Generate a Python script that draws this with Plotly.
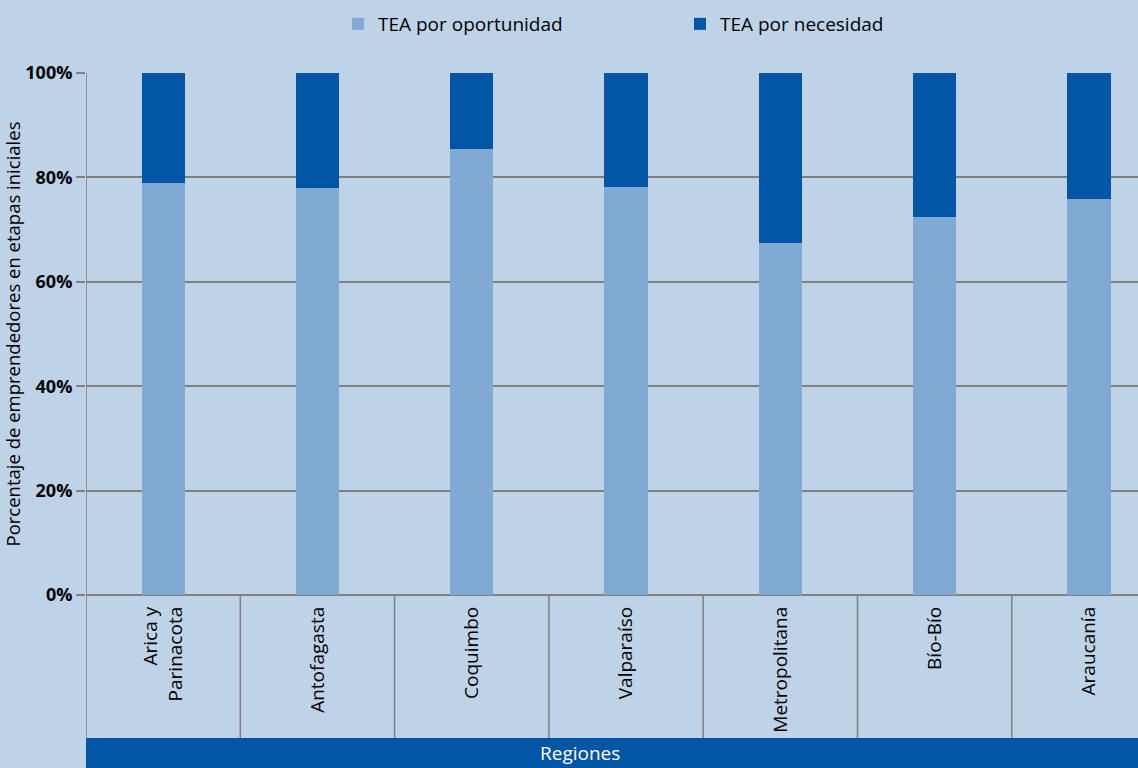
import plotly.graph_objects as go

regiones = ["Arica y<br>Parinacota", "Antofagasta", "Coquimbo", "Valparaíso",
            "Metropolitana", "Bío-Bío", "Araucanía"]
tea_oportunidad = [78.9, 78.0, 85.4, 78.2, 67.4, 72.4, 75.9]
tea_necesidad = [21.1, 22.0, 14.6, 21.8, 32.6, 27.6, 24.1]
y_ticks = [0, 20, 40, 60, 80, 100]
y_tick_labels = ["0%", "20%", "40%", "60%", "80%", "100%"]

BG = "#bed3e8"
LIGHT = "#80aad3"
DARK = "#0055a5"
GRID = "#808080"
FONT = "Open Sans"

W, H = 1138, 768
L, T, B = 86, 73, 173
plot_h = H - T - B
plot_w = W - L

def py(px):
    return (H - B - px) / plot_h

def pxx(px):
    return (px - L) / plot_w

x_idx = list(range(len(regiones)))

fig = go.Figure()
fig.add_trace(go.Bar(x=x_idx, y=tea_oportunidad, name="TEA por oportunidad",
                     marker=dict(color=LIGHT, line=dict(width=0)), width=0.28))
fig.add_trace(go.Bar(x=x_idx, y=tea_necesidad, name="TEA por necesidad",
                     marker=dict(color=DARK, line=dict(width=0)), width=0.28))

shapes = []
for i in range(len(regiones)):
    shapes.append(dict(type="line", xref="x", yref="paper", x0=i + 0.5, x1=i + 0.5,
                       y0=0, y1=py(738), line=dict(color=GRID, width=1.5), layer="below"))
shapes.append(dict(type="line", xref="x", yref="paper", x0=-0.5, x1=-0.5,
                   y0=py(738), y1=1, line=dict(color=GRID, width=1.5)))
shapes.append(dict(type="rect", xref="paper", yref="paper", x0=0, x1=1,
                   y0=py(768), y1=py(738), fillcolor=DARK, line=dict(width=0)))

fig.update_layout(
    width=W, height=H, autosize=False,
    margin=dict(l=L, r=0, t=T, b=B),
    paper_bgcolor=BG, plot_bgcolor=BG,
    barmode="stack",
    bargap=0,
    font=dict(family=FONT, color="#000000", size=18),
    showlegend=True,
    legend=dict(orientation="h", x=pxx(338), xanchor="left", y=py(24), yanchor="middle",
                font=dict(size=19, family=FONT), entrywidth=297, entrywidthmode="pixels",
                bgcolor="rgba(0,0,0,0)", traceorder="normal"),
    xaxis=dict(tickmode="array", tickvals=x_idx, ticktext=regiones, tickangle=-90,
               range=[-0.5, 6.318], showgrid=False, zeroline=False, showline=False,
               ticks="", ticklabelstandoff=7, tickfont=dict(size=19, family=FONT),
               fixedrange=True),
    yaxis=dict(range=[0, 100], tickmode="array", tickvals=y_ticks, ticktext=y_tick_labels,
               tickfont=dict(size=18, family=FONT, color="#000000", weight="bold"),
               showgrid=True, gridcolor=GRID, gridwidth=1.5,
               zeroline=True, zerolinecolor=GRID, zerolinewidth=1.5,
               ticks="outside", ticklen=9, tickcolor=GRID, tickwidth=1.5,
               showline=False, fixedrange=True,
               title=dict(text="Porcentaje de emprendedores en etapas iniciales",
                          font=dict(size=18.5, family=FONT), standoff=6)),
    shapes=shapes,
    annotations=[dict(text="Regiones", xref="paper", yref="paper", x=pxx(580), y=py(753),
                      xanchor="center", yanchor="middle", showarrow=False,
                      font=dict(size=19, color="#ffffff", family=FONT))],
)

fig.write_html("out.html", config={"displayModeBar": False},
               post_script="document.body.style.margin='0';document.body.style.padding='0';document.body.style.overflow='hidden';")
